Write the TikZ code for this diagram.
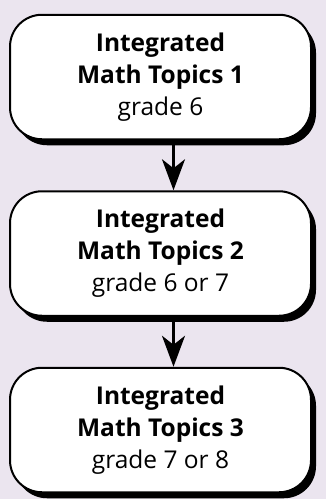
\documentclass[tikz,border=0pt]{standalone}
\usepackage{fontspec}
\setmainfont{Open Sans}
\usetikzlibrary{positioning}
\usetikzlibrary{shadows}
\usetikzlibrary{arrows.meta}

\begin{document}
\begin{tikzpicture}[x=1pt, y=1pt]
    \colorlet{border}{black}
\definecolor{backdrop}{RGB}{235,229,239}

\newcommand\boxwidth{301}
\newcommand\boxheight{124.5}
\newcommand\boxgap{50pt}
\newcommand\arrowshift{13pt}

\tikzset{
    course/.style={
        draw=border, fill=white, line width=2pt,
        rounded corners=32pt,
        minimum width={\boxwidth pt},
        minimum height={\boxheight pt},
        inner sep=0pt, align=center,
        font=\fontsize{24.5}{32}\selectfont,
        drop shadow={shadow xshift=5pt, shadow yshift=-6pt,
            fill=border, opacity=1},
    },
    next course/.style={
        draw=border, line width=2.5pt,
        -{Stealth[length=31pt, width=23pt, inset=9pt]},
    },
}

\fill[backdrop] (0, 0) rectangle (326, -499);
\useasboundingbox (0, 0) rectangle (326, -499);

\node[course] at (160.5, -77) (topics-1)
    {\textbf{Integrated}\\\textbf{Math Topics 1}\\grade 6};
\node[course, below=\boxgap of topics-1] (topics-2)
    {\textbf{Integrated}\\\textbf{Math Topics 2}\\grade 6 or 7};
\node[course, below=\boxgap of topics-2] (topics-3)
    {\textbf{Integrated}\\\textbf{Math Topics 3}\\grade 7 or 8};

    \draw[next course] ([xshift=\arrowshift]topics-1.south)
        -- ([xshift=\arrowshift]topics-2.north);
    \draw[next course] ([xshift=\arrowshift]topics-2.south)
        -- ([xshift=\arrowshift]topics-3.north);
\end{tikzpicture}
\end{document}
